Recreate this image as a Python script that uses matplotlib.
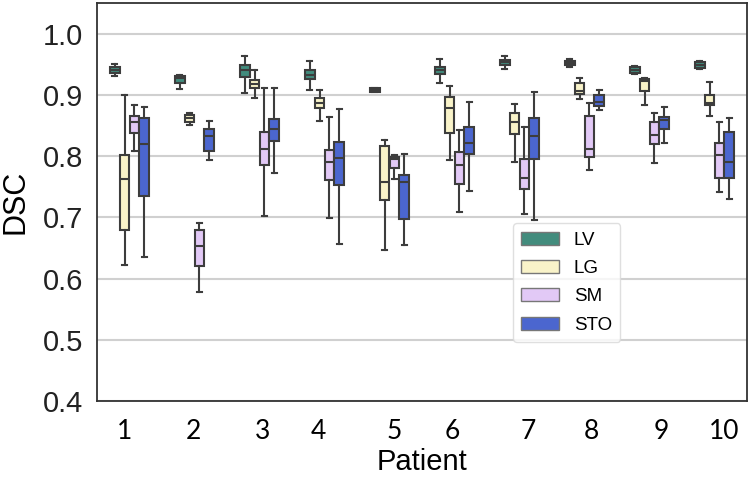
#!/usr/bin/env python3
# -*- coding:utf-8 -*-

import matplotlib as mpl
mpl.use('Agg')
import matplotlib.pyplot as plt


organs = ['LV', 'LG', 'SM', 'STO']
patients = ['1', '2', '3', '4', '5', '6', '7', '8', '9', '10']

# per organ, one value per patient
whishi = {
    'LV':  [0.950, 0.933, 0.963, 0.955, 0.911, 0.958, 0.963, 0.958, 0.947, 0.955],
    'LG':  [0.900, 0.870, 0.940, 0.908, 0.826, 0.914, 0.885, 0.928, 0.928, 0.921],
    'SM':  [0.884, 0.690, 0.911, 0.864, 0.802, 0.843, 0.848, 0.887, 0.870, 0.856],
    'STO': [0.880, 0.857, 0.911, 0.877, 0.804, 0.889, 0.904, 0.908, 0.880, 0.862],
}
q3 = {
    'LV':  [0.945, 0.931, 0.949, 0.940, 0.911, 0.946, 0.957, 0.955, 0.945, 0.953],
    'LG':  [0.802, 0.867, 0.925, 0.895, 0.816, 0.897, 0.871, 0.919, 0.926, 0.900],
    'SM':  [0.866, 0.679, 0.840, 0.810, 0.799, 0.806, 0.796, 0.866, 0.855, 0.822],
    'STO': [0.862, 0.845, 0.861, 0.823, 0.769, 0.847, 0.862, 0.899, 0.864, 0.840],
}
med = {
    'LV':  [0.941, 0.927, 0.940, 0.933, 0.908, 0.940, 0.953, 0.952, 0.941, 0.949],
    'LG':  [0.762, 0.862, 0.918, 0.886, 0.758, 0.878, 0.856, 0.907, 0.923, 0.887],
    'SM':  [0.855, 0.653, 0.811, 0.791, 0.795, 0.786, 0.765, 0.811, 0.834, 0.802],
    'STO': [0.820, 0.832, 0.844, 0.797, 0.757, 0.821, 0.833, 0.888, 0.859, 0.791],
}
q1 = {
    'LV':  [0.936, 0.920, 0.929, 0.926, 0.905, 0.934, 0.948, 0.949, 0.936, 0.944],
    'LG':  [0.680, 0.855, 0.911, 0.878, 0.729, 0.838, 0.836, 0.902, 0.907, 0.883],
    'SM':  [0.837, 0.620, 0.785, 0.761, 0.781, 0.755, 0.747, 0.799, 0.820, 0.765],
    'STO': [0.734, 0.809, 0.824, 0.752, 0.698, 0.803, 0.795, 0.881, 0.845, 0.765],
}
whislo = {
    'LV':  [0.930, 0.909, 0.903, 0.908, 0.905, 0.920, 0.943, 0.946, 0.934, 0.943],
    'LG':  [0.622, 0.851, 0.895, 0.858, 0.646, 0.793, 0.790, 0.893, 0.884, 0.866],
    'SM':  [0.809, 0.578, 0.702, 0.699, 0.762, 0.708, 0.705, 0.778, 0.789, 0.742],
    'STO': [0.635, 0.793, 0.772, 0.657, 0.654, 0.743, 0.695, 0.875, 0.821, 0.730],
}

colors = {'LV': '#428c7d', 'LG': '#f9f3c9', 'SM': '#e2c9f6', 'STO': '#4b66cf'}

# tick labels in the source sit a bit off the group centres
tick_pos = [-0.08, 0.99, 2.05, 2.90, 4.08, 4.96, 6.13, 7.11, 8.18, 9.15]

sans = ['Liberation Sans', 'DejaVu Sans']

fig = plt.figure(figsize=(7.5, 4.8), dpi=100)
ax = fig.add_axes([0.1293, 0.1646, 0.8667, 0.8291])

edge = '#3d3d3d'
bw = 0.15
for j, organ in enumerate(organs):
    stats = []
    for i in range(len(patients)):
        stats.append(dict(med=med[organ][i], q1=q1[organ][i], q3=q3[organ][i],
                          whislo=whislo[organ][i], whishi=whishi[organ][i],
                          fliers=[]))
    pos = [i + (j - 1.5) * bw for i in range(len(patients))]
    ax.bxp(stats, positions=pos, widths=bw * 0.97, capwidths=bw * 0.5,
           patch_artist=True, showfliers=False, manage_ticks=False,
           boxprops=dict(facecolor=colors[organ], edgecolor=edge, linewidth=1.5),
           medianprops=dict(color=edge, linewidth=1.5),
           whiskerprops=dict(color=edge, linewidth=1.5),
           capprops=dict(color=edge, linewidth=1.5))

ax.set_xlim(-0.5, 9.5)
ax.set_ylim(0.4, 1.05)
yt = [0.4, 0.5, 0.6, 0.7, 0.8, 0.9, 1.0]
ax.set_yticks(yt)
ax.set_yticklabels(['{:.1f}'.format(v) for v in yt],
                   fontsize=21, family=sans, color='#222222')
ax.set_xticks(tick_pos)
ax.set_xticklabels(patients, fontsize=19, family=['Lato', 'Liberation Sans'])
ax.tick_params(axis='both', length=0)
ax.tick_params(axis='y', pad=10)
ax.tick_params(axis='x', pad=13)

ax.yaxis.grid(True, color='#d0d0d0', linewidth=1.5)
ax.set_axisbelow(True)
for s in ax.spines.values():
    s.set_color('#333333')
    s.set_linewidth(1.3)

ax.set_ylabel('DSC', fontsize=22, family=sans)
ax.yaxis.set_label_coords(-0.102, 0.5)
ax.set_xlabel('Patient', fontsize=21, family=sans)
ax.xaxis.set_label_coords(0.5, -0.118)

handles = [mpl.patches.Patch(facecolor=colors[o], edgecolor='#777777', label=o) for o in organs]
leg = ax.legend(handles=handles, loc='upper left', bbox_to_anchor=(0.64, 0.447),
                borderaxespad=0, handlelength=2.0, handleheight=0.7,
                labelspacing=0.6, handletextpad=0.8, borderpad=0.45,
                frameon=True, fancybox=True,
                prop={'family': sans, 'size': 13.5})
leg.get_frame().set_edgecolor('#d8d8d8')

plt.savefig('out.png', dpi=100)
